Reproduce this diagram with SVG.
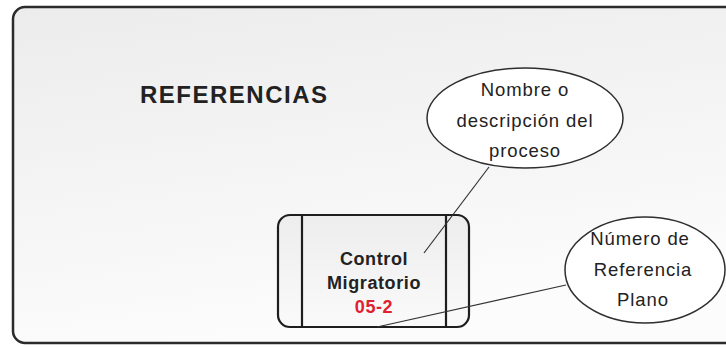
<svg xmlns="http://www.w3.org/2000/svg" width="726" height="347" viewBox="0 0 726 347">
  <style>
    .frame { fill: url(#bg); stroke: #2b2b2b; stroke-width: 2.5; }
    .proc { fill: url(#pg); stroke: #1e1e1e; stroke-width: 2.2; }
    .div { stroke: #1e1e1e; stroke-width: 2.2; }
    .bubble { fill: #ffffff; stroke: #2e2e2e; stroke-width: 1.5; }
    .conn { stroke: #333333; stroke-width: 1.2; fill: none; }
    .title { font-family: "Liberation Sans", Arial, sans-serif; font-size: 24px; font-weight: bold; fill: #222222; letter-spacing: 1.5px; }
    .ptxt { font-family: "Liberation Sans", Arial, sans-serif; font-size: 18px; font-weight: bold; fill: #222222; text-anchor: middle; letter-spacing: 0.6px; }
    .pnum { fill: #e02030; }
    .btxt { font-family: "Liberation Sans", Arial, sans-serif; font-size: 18.5px; fill: #222222; text-anchor: middle; letter-spacing: 0.9px; }
  </style>
  <defs>
    <linearGradient id="bg" x1="0" y1="0" x2="0.3" y2="1">
      <stop offset="0" stop-color="#ececec"/>
      <stop offset="1" stop-color="#fcfcfc"/>
    </linearGradient>
    <linearGradient id="pg" x1="0" y1="0" x2="0" y2="1">
      <stop offset="0" stop-color="#ededed"/>
      <stop offset="1" stop-color="#fafafa"/>
    </linearGradient>
  </defs>

  <g id="frame">
    <rect class="frame" x="13" y="7" width="730" height="336" rx="12" ry="12"/>
  </g>

  <g id="title">
    <text class="title" x="140" y="103">REFERENCIAS</text>
  </g>

  <g id="process">
    <rect class="proc" x="278" y="215" width="191" height="112" rx="12" ry="12"/>
    <line class="div" x1="302" y1="215" x2="302" y2="327"/>
    <line class="div" x1="446" y1="215" x2="446" y2="327"/>
    <text class="ptxt" x="374" y="265">Control</text>
    <text class="ptxt" x="374" y="289">Migratorio</text>
    <text class="ptxt pnum" x="374" y="313">05-2</text>
  </g>

  <g id="bubble-nombre">
    <ellipse class="bubble" cx="525" cy="118" rx="98" ry="50"/>
    <text class="btxt" x="525" y="96">Nombre o</text>
    <text class="btxt" x="525" y="127">descripción del</text>
    <text class="btxt" x="525" y="157">proceso</text>
  </g>

  <g id="bubble-numero">
    <ellipse class="bubble" cx="645" cy="270" rx="80" ry="53"/>
    <text class="btxt" x="640" y="245">Número de</text>
    <text class="btxt" x="643" y="276">Referencia</text>
    <text class="btxt" x="643" y="306">Plano</text>
  </g>

  <g id="connectors">
    <line class="conn" x1="489" y1="167" x2="424" y2="253"/>
    <line class="conn" x1="566" y1="285" x2="377" y2="327"/>
  </g>
</svg>
